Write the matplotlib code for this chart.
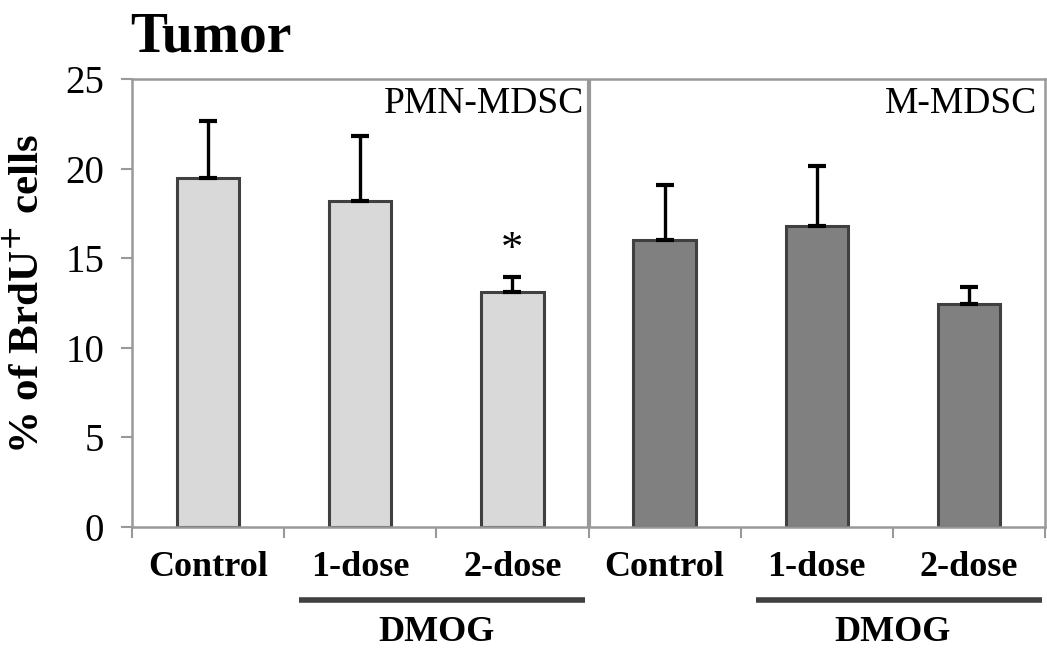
import numpy as np
import matplotlib.pyplot as plt

groups = ['Control', '1-dose', '2-dose', 'Control', '1-dose', '2-dose']
pmn_mean = [19.5, 18.2, 13.1]
pmn_err = [3.15, 3.6, 0.85]
m_mean = [16.0, 16.8, 12.45]
m_err = [3.1, 3.35, 0.95]
panel_names = ['PMN-MDSC', 'M-MDSC']
yticks = [0, 5, 10, 15, 20, 25]

plt.rcParams['font.family'] = ['Liberation Serif', 'DejaVu Serif']

fig = plt.figure(figsize=(10.47, 6.48), dpi=100)
ax = fig.add_axes([132/1047, 1-527/648, 913/1047, 448/648])

x = np.arange(6) + 0.5
means = pmn_mean + m_mean
errs = pmn_err + m_err
colors = ['#d9d9d9'] * 3 + ['#808080'] * 3

ax.bar(x, means, width=0.41, color=colors, edgecolor='#404040', linewidth=2.2, zorder=2)
ax.errorbar(x, means, yerr=[np.zeros(6), errs], fmt='none', ecolor='black',
            elinewidth=2.4, capsize=6.5, capthick=3, zorder=3)

ax.set_xlim(0, 6)
ax.set_ylim(0, 25)
ax.set_yticks(yticks)
ax.set_xticks(range(7))
ax.set_xticklabels([])
ax.set_xticks(x, minor=True)
ax.set_xticklabels(groups, minor=True, fontsize=26, fontweight='bold')
ax.tick_params(axis='x', which='minor', length=0, pad=17)
ax.tick_params(axis='x', which='major', length=8, width=1.5, color='#999999', direction='out')
ax.tick_params(axis='y', length=8, width=1.5, color='#999999', direction='out',
               labelsize=28, pad=12)

for s in ax.spines.values():
    s.set_color('#999999')
    s.set_linewidth(1.8)
ax.axvline(3, color='#999999', linewidth=3, zorder=1)

ax.text(2.97, 24.6, panel_names[0], ha='right', va='top', fontsize=27)
ax.text(5.95, 24.6, panel_names[1], ha='right', va='top', fontsize=27)
ax.text(x[2], means[2] + errs[2] + 0.4, '*', ha='center', va='bottom', fontsize=32)

trans = ax.get_xaxis_transform()
for start in [0, 3]:
    ax.plot([start + 1.1, start + 2.98], [-0.163, -0.163], transform=trans, color='#404040',
            linewidth=4, clip_on=False, solid_capstyle='butt')
    ax.text(start + 2.0, -0.235, 'DMOG', transform=trans, ha='center', va='center',
            fontsize=26, fontweight='bold')

ax.set_ylabel('% of BrdU$^{+}$ cells', fontsize=31, fontweight='bold')
ax.yaxis.set_label_coords(-0.092, 0.52)
fig.text(130/1047, 1-38/648, 'Tumor', fontsize=40, fontweight='bold', va='center', ha='left')

fig.savefig('out.png', dpi=100)
